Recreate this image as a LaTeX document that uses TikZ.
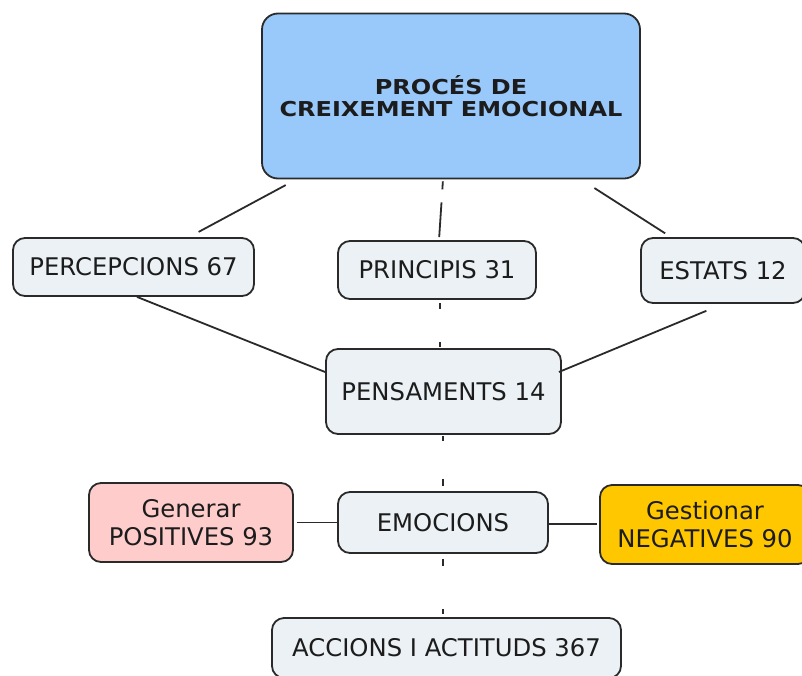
\documentclass[tikz,border=0pt]{standalone}
\usepackage{fontspec}
\setmainfont{DejaVu Sans}
\newfontfamily\headfont[FakeStretch=1.17]{DejaVu Sans Bold}
\begin{document}
\definecolor{edgegray}{HTML}{2A2A2A}
\definecolor{inkgray}{HTML}{1C1C1C}
\definecolor{topblue}{HTML}{99C9FA}
\definecolor{plainfill}{HTML}{EBF1F4}
\definecolor{posfill}{HTML}{FFCCCC}
\definecolor{negfill}{HTML}{FFC700}
\begin{tikzpicture}[x=1pt,y=-1pt,
  concept/.style={draw=edgegray, line width=1.8pt, rounded corners=12pt,
    fill=plainfill, text=inkgray, align=center, inner sep=0pt,
    font=\fontsize{24.3}{28}\selectfont},
  link/.style={draw=edgegray, line width=1.8pt},
  broken/.style n args={3}{dash pattern=on #1 off #2 on #3}]
\useasboundingbox (0,0) rectangle (802,675);
\clip (0,0) rectangle (802,675);

% concepts
\node[concept, fill=topblue, rounded corners=16pt, minimum width=378pt, minimum height=165pt,
  font=\headfont\fontsize{20.5}{22}\selectfont] (top) at (451,96)
  {PROCÉS DE\\CREIXEMENT EMOCIONAL};
\node[concept, minimum width=241pt, minimum height=58pt] (perc) at (133.5,267) {PERCEPCIONS 67};
\node[concept, minimum width=198pt, minimum height=58pt] (princ) at (437,270) {PRINCIPIS 31};
\node[concept, minimum width=164pt, minimum height=65pt] (est) at (723,270.5) {ESTATS 12};
\node[concept, minimum width=235pt, minimum height=85pt] (pens) at (443.5,391.5) {PENSAMENTS 14};
\node[concept, minimum width=210pt, minimum height=61pt] (emo) at (443,522.5) {EMOCIONS};
\node[concept, fill=posfill, minimum width=204pt, minimum height=79pt] (pos) at (191,522.5)
  {Generar\\POSITIVES 93};
\node[concept, fill=negfill, minimum width=210pt, minimum height=79pt] (neg) at (705,524.5)
  {Gestionar\\NEGATIVES 90};
\node[concept, minimum width=349pt, minimum height=60pt] (acc) at (446.5,648)
  {ACCIONS I ACTITUDS 367};

% connectors
\draw[link, shorten <=12pt, shorten >=11pt] (top) -- (perc);
\draw[link, shorten <=16pt, shorten >=7pt] (top) -- (est);
\draw[link, shorten <=2pt, shorten >=3pt, broken={8pt}{13pt}{40pt}]
  ([xshift=-8pt]top.south) -- ([xshift=2pt]princ.north);
\draw[link, shorten <=3pt, shorten >=1pt, broken={6pt}{33pt}{6pt}]
  ([xshift=3pt]princ.south) -- ([xshift=-3.5pt]pens.north);
\draw[link, shorten <=1pt, shorten >=5pt, broken={5pt}{38pt}{9pt}]
  ([xshift=-0.5pt]pens.south) -- (emo.north);
\draw[link, shorten <=5pt, shorten >=3pt, broken={7pt}{43pt}{7pt}]
  (emo.south) -- ([xshift=-3.5pt]acc.north);
\draw[link] ([xshift=3.5pt]perc.south) -- ([yshift=19.5pt]pens.west);
\draw[link, shorten <=18pt] (est.south) -- ([xshift=-3pt,yshift=19.5pt]pens.east);
\draw[link, shorten <=3pt] (pos.east) -- (emo.west);
\draw[link, shorten >=2pt] ([yshift=-1.5pt]emo.east) -- ([yshift=-1.5pt]emo.east -| neg.west);
\end{tikzpicture}
\end{document}
